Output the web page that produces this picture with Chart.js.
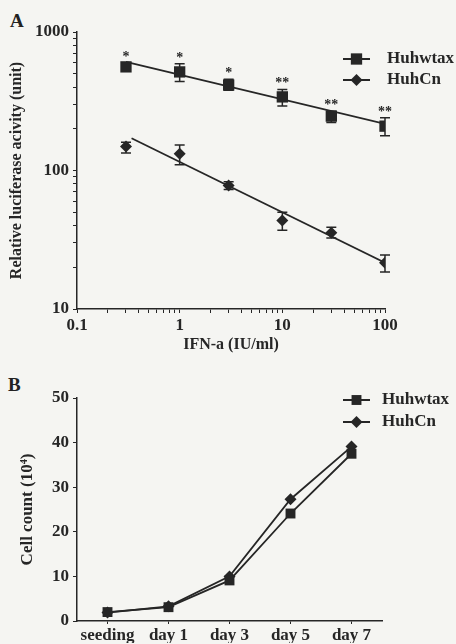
<!DOCTYPE html>
<html>
<head>
<meta charset="utf-8">
<script src="https://cdn.jsdelivr.net/npm/chart.js@4.4.1/dist/chart.umd.min.js"></script>
<style>
    body { margin: 0; background: #f5f5f2; }
    .panel { position: absolute; left: 0; width: 456px; }
    #panelA { top: 0; height: 360px; }
    #panelB { top: 360px; height: 284px; }
    .tag { position: absolute; font: bold 19px "Liberation Serif", serif; color: #222; }
</style>
</head>
<body>
<div class="tag" style="left:10px;top:10px">A</div>
<div class="tag" style="left:8px;top:374px">B</div>
<div class="panel" id="panelA"><canvas id="chartA"></canvas></div>
<div class="panel" id="panelB"><canvas id="chartB"></canvas></div>
<script>
// panel A: luciferase activity vs IFN-a dose
const doses = [0.3, 1, 3, 10, 30, 100];
const wtaxLuc = [560, 515, 414, 340, 247, 209];
const wtaxLow = [530, 440, 380, 292, 222, 178];
const wtaxHigh = [600, 590, 455, 385, 268, 240];
const wtaxStars = ['*', '*', '*', '**', '**', '**'];
const cnLuc = [149, 132, 78, 43.6, 35.5, 21.6];
const cnLow = [134, 110, 73, 37, 32.5, 18.5];
const cnHigh = [160, 153, 83, 50, 39, 24.5];
const wtaxFitX = [0.3, 100];
const wtaxFitY = [608, 217];
const cnFitX = [0.34, 100];
const cnFitY = [171, 21.6];
const doseTicks = [0.1, 1, 10, 100];
const doseTickLabels = ['0.1', '1', '10', '100'];
const lucTicks = [10, 100, 1000];
const lucTickLabels = ['10', '100', '1000'];

// panel B: cell growth
const days = ['seeding', 'day 1', 'day 3', 'day 5', 'day 7'];
const wtaxCells = [2.0, 3.1, 9.1, 24.1, 37.5];
const cnCells = [1.9, 3.3, 10.0, 27.3, 39.1];

const ink = '#262626';
const serif = '"Liberation Serif", "Times New Roman", serif';

function pts(xs, ys) {
    return xs.map((x, i) => ({ x: x, y: ys[i] }));
}

function pickLabel(v, vals, labels) {
    for (let i = 0; i < vals.length; i++) {
        if (Math.abs(v - vals[i]) < vals[i] * 1e-6) return labels[i];
    }
    return '';
}

// 1..9 per decade, so the log axes get their minor tick marks
function decadeTicks(scale, decades) {
    const out = [];
    for (let d = 0; d < decades.length - 1; d++) {
        for (let m = 1; m < 10; m++) out.push({ value: decades[d] * m });
    }
    out.push({ value: decades[decades.length - 1] });
    scale.ticks = out;
}

function marker(ctx, style, x, y, r) {
    ctx.beginPath();
    if (style === 'rect') {
        const s = r * Math.SQRT1_2;
        ctx.rect(x - s, y - s, 2 * s, 2 * s);
    } else {
        ctx.moveTo(x, y - r);
        ctx.lineTo(x + r, y);
        ctx.lineTo(x, y + r);
        ctx.lineTo(x - r, y);
        ctx.closePath();
    }
    ctx.fill();
}

const errorBars = {
    id: 'errorBars',
    beforeDatasetsDraw(chart) {
        const ctx = chart.ctx;
        const yScale = chart.scales.y;
        ctx.save();
        ctx.strokeStyle = ink;
        ctx.lineWidth = 1.5;
        chart.data.datasets.forEach((ds, di) => {
            if (!ds.errLow) return;
            chart.getDatasetMeta(di).data.forEach((el, i) => {
                const top = yScale.getPixelForValue(ds.errHigh[i]);
                const bot = yScale.getPixelForValue(ds.errLow[i]);
                ctx.beginPath();
                ctx.moveTo(el.x, top); ctx.lineTo(el.x, bot);
                ctx.moveTo(el.x - 5, top); ctx.lineTo(el.x + 5, top);
                ctx.moveTo(el.x - 5, bot); ctx.lineTo(el.x + 5, bot);
                ctx.stroke();
            });
        });
        ctx.restore();
    },
    afterDatasetsDraw(chart) {
        const ctx = chart.ctx;
        const yScale = chart.scales.y;
        ctx.save();
        ctx.fillStyle = ink;
        ctx.font = 'bold 14px ' + serif;
        ctx.textAlign = 'center';
        ctx.textBaseline = 'alphabetic';
        chart.data.datasets.forEach((ds, di) => {
            if (!ds.stars) return;
            chart.getDatasetMeta(di).data.forEach((el, i) => {
                const top = yScale.getPixelForValue(ds.errHigh[i]);
                ctx.fillText(ds.stars[i], el.x, top - 2);
            });
        });
        ctx.restore();
    }
};

const figLegend = {
    id: 'figLegend',
    afterDraw(chart, args, opts) {
        const ctx = chart.ctx;
        ctx.save();
        opts.items.forEach((idx, i) => {
            const ds = chart.data.datasets[idx];
            const y = opts.y + i * opts.gap;
            ctx.strokeStyle = ink;
            ctx.lineWidth = 2;
            ctx.beginPath();
            ctx.moveTo(opts.x, y);
            ctx.lineTo(opts.x + opts.len, y);
            ctx.stroke();
            ctx.fillStyle = ink;
            marker(ctx, ds.pointStyle, opts.x + opts.len / 2, y, ds.pointRadius);
            ctx.font = 'bold 17px ' + serif;
            ctx.textBaseline = 'middle';
            ctx.fillText(ds.label, opts.textX, y);
        });
        ctx.restore();
    }
};

const tickFont = { family: serif, size: 17, weight: 'bold' };
const titleFont = { family: serif, size: 16, weight: 'bold' };

new Chart(document.getElementById('chartA'), {
    type: 'scatter',
    data: {
        datasets: [{
            label: 'Huhwtax',
            data: pts(doses, wtaxLuc),
            errLow: wtaxLow,
            errHigh: wtaxHigh,
            stars: wtaxStars,
            pointStyle: 'rect',
            pointRadius: 8,
            backgroundColor: ink,
            borderColor: ink,
            borderWidth: 0
        }, {
            label: 'HuhCn',
            data: pts(doses, cnLuc),
            errLow: cnLow,
            errHigh: cnHigh,
            pointStyle: 'rectRot',
            pointRadius: 6,
            backgroundColor: ink,
            borderColor: ink,
            borderWidth: 0
        }, {
            label: 'fit wtax',
            data: pts(wtaxFitX, wtaxFitY),
            showLine: true,
            pointRadius: 0,
            borderColor: ink,
            borderWidth: 1.8
        }, {
            label: 'fit cn',
            data: pts(cnFitX, cnFitY),
            showLine: true,
            pointRadius: 0,
            borderColor: ink,
            borderWidth: 1.8
        }]
    },
    options: {
        responsive: true,
        maintainAspectRatio: false,
        animation: false,
        layout: { padding: { top: 32, right: 71, bottom: 5, left: 0 } },
        plugins: {
            legend: { display: false },
            tooltip: { enabled: false },
            figLegend: { x: 343, len: 27, textX: 387, y: 59, gap: 21, items: [0, 1] }
        },
        scales: {
            x: {
                type: 'logarithmic',
                min: 0.1,
                max: 100,
                afterBuildTicks: s => decadeTicks(s, doseTicks),
                grid: { drawOnChartArea: false, tickLength: 4, color: ink },
                border: { color: ink, width: 1.5 },
                ticks: {
                    autoSkip: false,
                    maxRotation: 0,
                    padding: 2,
                    color: ink,
                    font: tickFont,
                    callback: v => pickLabel(v, doseTicks, doseTickLabels)
                },
                title: { display: true, text: 'IFN-a (IU/ml)', color: ink, font: titleFont, padding: { top: 0, bottom: 1 } },
                afterFit: s => { s.height = 46; }
            },
            y: {
                type: 'logarithmic',
                min: 10,
                max: 1000,
                afterBuildTicks: s => decadeTicks(s, lucTicks),
                grid: { drawOnChartArea: false, tickLength: 4, color: ink },
                border: { color: ink, width: 1.5 },
                ticks: {
                    autoSkip: false,
                    padding: 4,
                    color: ink,
                    font: tickFont,
                    callback: v => pickLabel(v, lucTicks, lucTickLabels)
                },
                title: { display: true, text: 'Relative luciferase acivity (unit)', color: ink, font: titleFont, padding: { top: 7, bottom: 0 } },
                afterFit: s => { s.width = 77; }
            }
        }
    },
    plugins: [errorBars, figLegend]
});

new Chart(document.getElementById('chartB'), {
    type: 'line',
    data: {
        labels: days,
        datasets: [{
            label: 'Huhwtax',
            data: wtaxCells,
            pointStyle: 'rect',
            pointRadius: 7,
            pointBorderWidth: 0,
            pointBackgroundColor: ink,
            borderColor: ink,
            borderWidth: 1.8
        }, {
            label: 'HuhCn',
            data: cnCells,
            pointStyle: 'rectRot',
            pointRadius: 6,
            pointBorderWidth: 0,
            pointBackgroundColor: ink,
            borderColor: ink,
            borderWidth: 1.8
        }]
    },
    options: {
        responsive: true,
        maintainAspectRatio: false,
        animation: false,
        layout: { padding: { top: 38, right: 74, bottom: 1, left: 0 } },
        plugins: {
            legend: { display: false },
            tooltip: { enabled: false },
            figLegend: { x: 343, len: 27, textX: 382, y: 40, gap: 22, items: [0, 1] }
        },
        scales: {
            x: {
                type: 'category',
                offset: true,
                grid: { drawOnChartArea: false, tickLength: 3, color: ink },
                border: { color: ink, width: 1.5 },
                ticks: { maxRotation: 0, autoSkip: false, padding: 1, color: ink, font: tickFont },
                afterFit: s => { s.height = 22; }
            },
            y: {
                min: 0,
                max: 50,
                grid: { drawOnChartArea: false, tickLength: 4, color: ink },
                border: { color: ink, width: 1.5 },
                ticks: { stepSize: 10, padding: 4, color: ink, font: tickFont },
                title: { display: true, text: 'Cell count (10⁴)', color: ink, font: { family: serif, size: 17, weight: 'bold' }, padding: { top: 17, bottom: 0 } },
                afterFit: s => { s.width = 77; }
            }
        }
    },
    plugins: [figLegend]
});
</script>
</body>
</html>
